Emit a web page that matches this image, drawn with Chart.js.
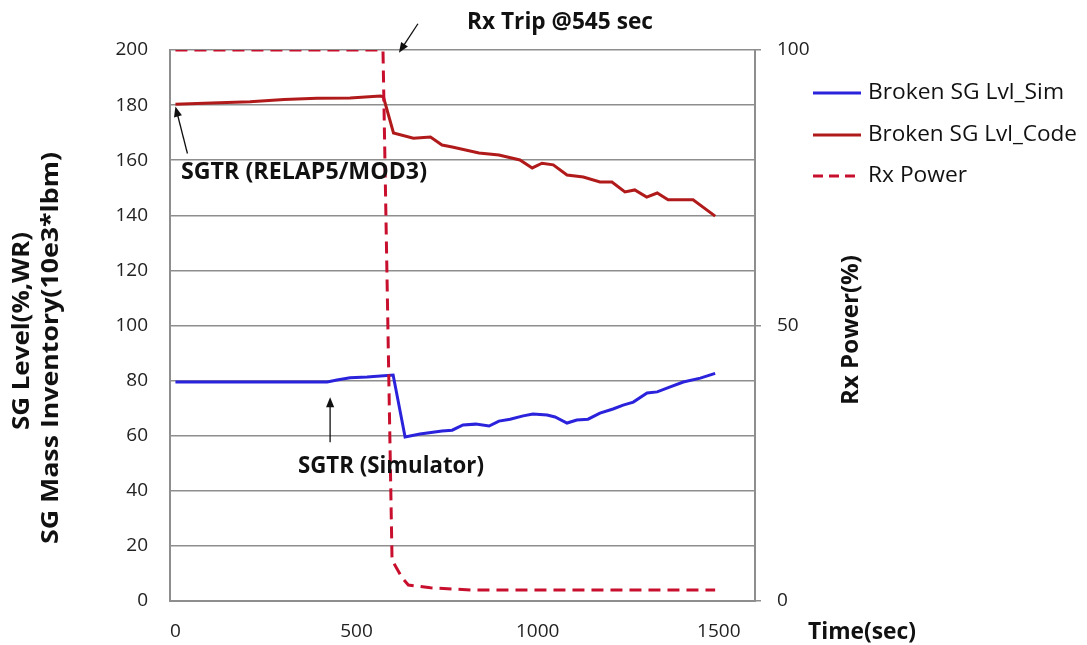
<!DOCTYPE html>
<html>
<head>
<meta charset="utf-8">
<script src="https://cdn.jsdelivr.net/npm/chart.js@4.4.0/dist/chart.umd.min.js"></script>
<style>
  html, body { margin: 0; padding: 0; background: #fff; }
  #wrap { width: 1087px; height: 645px; position: relative; }
</style>
</head>
<body>
<div id="wrap"><canvas id="sgChart"></canvas></div>
<script>
// time (sec) / value pairs for each trace
const simTime  = [0, 419, 446, 482, 529, 601, 634, 675, 736, 764, 794, 829, 866, 893, 924, 960, 987, 1026, 1048, 1081, 1108, 1139, 1172, 1208, 1236, 1264, 1302, 1330, 1366, 1402, 1449, 1490];
const simLevel = [79.5, 79.5, 80.2, 81, 81.3, 82, 59.5, 60.6, 61.7, 62, 63.9, 64.2, 63.5, 65.3, 66, 67.2, 67.9, 67.5, 66.8, 64.6, 65.7, 66, 68.2, 69.7, 71.1, 72.2, 75.5, 75.9, 77.7, 79.5, 80.9, 82.6];

const codeTime  = [0, 100, 206, 300, 391, 482, 566, 574, 602, 657, 704, 736, 764, 838, 893, 951, 985, 1012, 1043, 1081, 1126, 1172, 1205, 1241, 1268, 1301, 1330, 1360, 1429, 1490];
const codeLevel = [180.3, 180.8, 181.2, 182, 182.5, 182.6, 183.3, 183, 169.9, 168, 168.4, 165.5, 164.8, 162.6, 161.9, 160.1, 157.2, 158.9, 158.3, 154.6, 153.9, 152.1, 152.1, 148.5, 149.2, 146.6, 148.1, 145.6, 145.6, 139.7];

const powerTime  = [0, 573, 598, 626, 643, 704, 815, 1490];
const powerValue = [100, 100, 7.4, 4.2, 2.9, 2.4, 2.0, 2.0];

const timeTicks = [0, 500, 1000, 1500];
const seriesNames = ["Broken SG Lvl_Sim", "Broken SG Lvl_Code", "Rx Power"];

const blue = "#2b22dc";
const darkRed = "#b11a1a";
const dashRed = "#c8102e";
const gridGray = "#8e8e8e";

function pairs(xs, ys) {
  return xs.map((x, i) => ({ x: x, y: ys[i] }));
}

// text squeezed/stretched to a given width (Calibri-like proportions)
function fitText(ctx, text, cx, cy, w, font, angle) {
  ctx.save();
  ctx.font = font;
  ctx.translate(cx, cy);
  if (angle) ctx.rotate(angle);
  const m = ctx.measureText(text).width;
  ctx.scale(w / m, 1);
  ctx.textAlign = "center";
  ctx.textBaseline = "middle";
  ctx.fillStyle = "#111";
  ctx.fillText(text, 0, 0);
  ctx.restore();
}

function arrow(ctx, x0, y0, x1, y1) {
  const a = Math.atan2(y1 - y0, x1 - x0);
  const h = 11;
  ctx.save();
  ctx.strokeStyle = "#111";
  ctx.fillStyle = "#111";
  ctx.lineWidth = 1.3;
  ctx.beginPath();
  ctx.moveTo(x0, y0);
  ctx.lineTo(x1 - Math.cos(a) * h * 0.8, y1 - Math.sin(a) * h * 0.8);
  ctx.stroke();
  ctx.beginPath();
  ctx.moveTo(x1, y1);
  ctx.lineTo(x1 - h * Math.cos(a - 0.38), y1 - h * Math.sin(a - 0.38));
  ctx.lineTo(x1 - h * Math.cos(a + 0.38), y1 - h * Math.sin(a + 0.38));
  ctx.closePath();
  ctx.fill();
  ctx.restore();
}

const extras = {
  id: "extras",
  afterDraw(chart) {
    const ctx = chart.ctx;
    const x = chart.scales.x, y = chart.scales.y, y1 = chart.scales.y1;
    const bold = "bold 23px 'Open Sans'";

    // axis titles
    fitText(ctx, "SG Level(%,WR)", 22, 331, 198, bold, -Math.PI / 2);
    fitText(ctx, "SG Mass Inventory(10e3*lbm)", 51, 348, 392, bold, -Math.PI / 2);
    fitText(ctx, "Rx Power(%)", 851, 330, 150, bold, -Math.PI / 2);
    fitText(ctx, "Time(sec)", 862, 632, 108, bold);

    // annotations
    const tripX = x.getPixelForValue(617), tripY = y1.getPixelForValue(99.5);
    arrow(ctx, tripX + 19, tripY - 29, tripX, tripY);
    fitText(ctx, "Rx Trip @545 sec", 560, 22, 186, bold);

    const relX = x.getPixelForValue(0), relY = y.getPixelForValue(179.5);
    arrow(ctx, relX + 12, relY + 47, relX, relY);
    fitText(ctx, "SGTR (RELAP5/MOD3)", 304, 172, 246, bold);

    const simX = x.getPixelForValue(427), simY = y.getPixelForValue(74);
    arrow(ctx, simX, simY + 45, simX, simY);
    fitText(ctx, "SGTR (Simulator)", 391, 466, 186, bold);

    // legend
    const rows = [93, 135, 176];
    const styles = [[blue, []], [darkRed, []], [dashRed, [10, 6]]];
    const widths = [196, 209, 99];
    rows.forEach((ry, i) => {
      ctx.save();
      ctx.strokeStyle = styles[i][0];
      ctx.lineWidth = 3;
      ctx.setLineDash(styles[i][1]);
      ctx.beginPath();
      ctx.moveTo(813, ry);
      ctx.lineTo(861, ry);
      ctx.stroke();
      ctx.restore();
      fitText(ctx, seriesNames[i], 868 + widths[i] / 2, ry, widths[i], "21px 'Open Sans'");
    });
  }
};

new Chart(document.getElementById("sgChart"), {
  type: "line",
  data: {
    datasets: [
      {
        label: seriesNames[0],
        data: pairs(simTime, simLevel),
        borderColor: blue,
        borderWidth: 3,
        pointRadius: 0,
        yAxisID: "y",
        order: 2
      },
      {
        label: seriesNames[1],
        data: pairs(codeTime, codeLevel),
        borderColor: darkRed,
        borderWidth: 3,
        pointRadius: 0,
        yAxisID: "y",
        order: 1
      },
      {
        label: seriesNames[2],
        data: pairs(powerTime, powerValue),
        borderColor: dashRed,
        borderWidth: 3,
        borderDash: [12, 7],
        pointRadius: 0,
        yAxisID: "y1",
        order: 0
      }
    ]
  },
  options: {
    responsive: true,
    maintainAspectRatio: false,
    animation: false,
    layout: { padding: { top: 50, left: 0, right: 0, bottom: 0 } },
    plugins: { legend: { display: false }, tooltip: { enabled: false } },
    scales: {
      x: {
        type: "linear",
        min: -15,
        max: 1600,
        afterBuildTicks: (s) => { s.ticks = timeTicks.map(v => ({ value: v })); },
        afterFit: (s) => { s.height = 44; },
        grid: { display: false },
        border: { display: true, color: gridGray, width: 2 },
        ticks: {
          padding: 11,
          color: "#222",
          font: { family: "Open Sans", size: 19 },
          callback: (v) => String(v)
        }
      },
      y: {
        position: "left",
        min: 0,
        max: 200,
        afterFit: (s) => { s.width = 170; },
        grid: { color: gridGray, lineWidth: 1.5, drawTicks: false },
        border: { display: true, color: gridGray, width: 2 },
        ticks: { stepSize: 20, padding: 22, color: "#222", font: { family: "Open Sans", size: 19 } }
      },
      y1: {
        position: "right",
        min: 0,
        max: 100,
        afterFit: (s) => { s.width = 332; },
        grid: { drawOnChartArea: false, drawTicks: true, tickLength: 6, color: gridGray, lineWidth: 1.5 },
        border: { display: true, color: gridGray, width: 2 },
        ticks: { stepSize: 50, padding: 16, color: "#222", font: { family: "Open Sans", size: 19 } }
      }
    }
  },
  plugins: [extras]
});
</script>
</body>
</html>
